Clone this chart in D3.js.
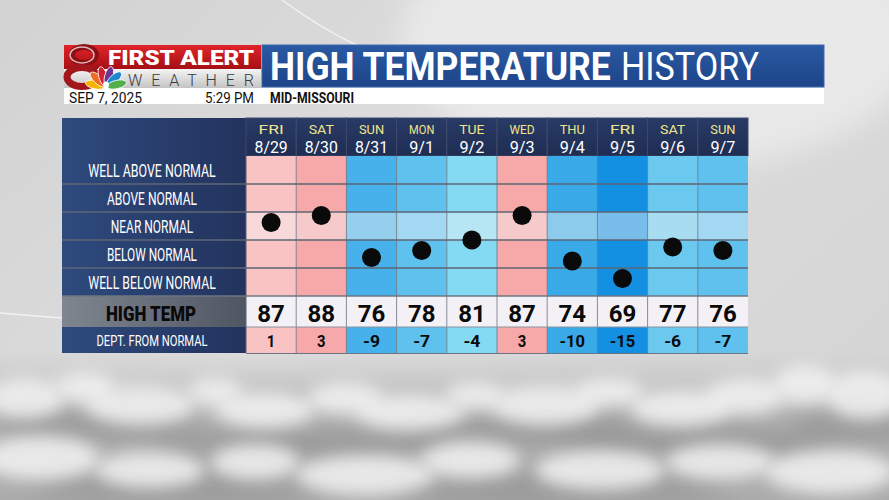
<!DOCTYPE html>
<html><head><meta charset="utf-8">
<script src="https://cdn.jsdelivr.net/npm/d3@7"></script>
<style>
html,body{margin:0;padding:0;overflow:hidden;background:#d9d9d9;}
svg{display:block;}
</style></head>
<body>
<svg id="c" width="889" height="500"></svg>
<script>
// ---------- data ----------
const dayNames = ["FRI","SAT","SUN","MON","TUE","WED","THU","FRI","SAT","SUN"];
const dates = ["8/29","8/30","8/31","9/1","9/2","9/3","9/4","9/5","9/6","9/7"];
const highTemps = [87,88,76,78,81,87,74,69,77,76];
const departures = [1,3,-9,-7,-4,3,-10,-15,-6,-7];
const categories = ["WELL ABOVE NORMAL","ABOVE NORMAL","NEAR NORMAL","BELOW NORMAL","WELL BELOW NORMAL"];
const deptDomain = [20,-20];
const titleBold = "HIGH TEMPERATURE";
const titleLight = "HISTORY";
const dateText = "SEP 7, 2025";
const timeText = "5:29 PM";
const regionText = "MID-MISSOURI";

// ---------- setup ----------
const svg = d3.select("#c");
const defs = svg.append("defs");
const F = "Roboto, 'Liberation Sans', sans-serif";

function lg(id, stops, x2=0, y2=1){
  const g = defs.append("linearGradient").attr("id",id)
    .attr("x1",0).attr("y1",0).attr("x2",x2).attr("y2",y2);
  stops.forEach(s=>g.append("stop").attr("offset",s[0]).attr("stop-color",s[1]).attr("stop-opacity", s[2]===undefined?1:s[2]));
}
lg("bgG",[[0,"#d2d2d2"],[0.5,"#dddddd"],[1,"#d6d6d6"]],1,0.6);
lg("redG",[[0,"#e0242a"],[1,"#a50f14"]]);
lg("grayG",[[0,"#f4f4f4"],[1,"#c4c4c4"]]);
lg("blueG",[[0,"#2a59a3"],[1,"#1d4488"]]);
lg("navyG",[[0,"#2e4a7e"],[1,"#23335d"]],1,0);
lg("hdrG",[[0,"#283a66"],[1,"#1f2d52"]]);
lg("htG",[[0,"#80868f"],[1,"#4f5663"]],1,0);
lg("cloudBase",[[0,"#c8c8c8",0],[0.3,"#bdbdbd",1],[1,"#ababab",1]]);
function blurF(id,sd){
  const f = defs.append("filter").attr("id",id).attr("x","-50%").attr("y","-50%").attr("width","200%").attr("height","200%");
  f.append("feGaussianBlur").attr("stdDeviation",sd);
}
blurF("blur",8); blurF("blurL",14); blurF("blurS",5);

// background
svg.append("rect").attr("width",889).attr("height",500).attr("fill","url(#bgG)");
svg.append("ellipse").attr("cx",660).attr("cy",40).attr("rx",260).attr("ry",130)
  .attr("fill","#ececec").attr("filter","url(#blurL)").attr("opacity",0.8);
svg.append("path").attr("d","M282,0 Q320,28 358,46").attr("stroke","#f6f6f6").attr("stroke-width",1.5).attr("fill","none").attr("opacity",0.85);
svg.append("path").attr("d","M0,313 L62,318").attr("stroke","#f6f6f6").attr("stroke-width",1.5).attr("fill","none").attr("opacity",0.85);

// clouds (decorative)
const cloudG = svg.append("g");
cloudG.append("rect").attr("x",0).attr("y",350).attr("width",889).attr("height",150).attr("fill","url(#cloudBase)");
const darkBlobs = [[90,425,110,18],[300,445,150,20],[520,430,120,18],[700,445,140,22],[860,425,70,20],[180,485,150,16],[560,488,170,16]];
darkBlobs.forEach(b=>cloudG.append("ellipse").attr("cx",b[0]).attr("cy",b[1]).attr("rx",b[2]).attr("ry",b[3]).attr("fill","#8e8e8e").attr("filter","url(#blurL)").attr("opacity",0.7));
const lightBlobs = [[25,398,40,20],[85,388,30,16],[140,405,55,20],[215,392,28,14],[265,410,50,18],[345,398,38,16],[410,412,55,18],[475,396,30,14],[545,405,55,20],[610,392,35,14],[680,408,50,18],[745,396,40,18],[805,385,32,20],[865,395,40,24],
  [40,458,60,22],[150,470,55,18],[255,462,45,18],[365,475,70,20],[470,460,50,18],[600,470,65,20],[720,462,55,18],[830,472,65,22]];
lightBlobs.forEach(b=>cloudG.append("ellipse").attr("cx",b[0]).attr("cy",b[1]).attr("rx",b[2]).attr("ry",b[3]).attr("fill","#f3f3f3").attr("filter","url(#blur)").attr("opacity",0.85));

// ---------- header / title ----------
const hdr = svg.append("g");
hdr.append("rect").attr("x",64).attr("y",88).attr("width",760).attr("height",16).attr("fill","#ffffff");
hdr.append("rect").attr("x",64).attr("y",45).attr("width",197).attr("height",24).attr("fill","url(#redG)");
hdr.append("rect").attr("x",64).attr("y",69).attr("width",197).attr("height",19).attr("fill","url(#grayG)");
hdr.append("rect").attr("x",262).attr("y",45).attr("width",562).attr("height",42).attr("fill","url(#blueG)")
  .attr("stroke","#3c69b0").attr("stroke-width",1);
// logo "8" drawn as two rings
hdr.append("ellipse").attr("cx",84).attr("cy",55).attr("rx",12).attr("ry",8)
  .attr("fill","none").attr("stroke","#8e0f13").attr("stroke-width",6);
hdr.append("ellipse").attr("cx",82).attr("cy",55).attr("rx",12).attr("ry",8)
  .attr("fill","none").attr("stroke","#f2dede").attr("stroke-width",1.5).attr("opacity",0.8);
hdr.append("ellipse").attr("cx",82).attr("cy",77).attr("rx",15).attr("ry",9.5)
  .attr("fill","none").attr("stroke","#a3161b").attr("stroke-width",7);
// peacock
const pc = hdr.append("g").attr("transform","translate(106,87)");
const feathers = ["#f4b400","#ef6b22","#d3202f","#6f3290","#1f88cf","#52b04a"];
feathers.forEach((c,i)=>{
  const a = -78 + i*31;
  pc.append("ellipse").attr("cx",0).attr("cy",-11).attr("rx",4.2).attr("ry",10)
    .attr("fill",c).attr("stroke","#fff").attr("stroke-width",0.8).attr("transform",`rotate(${a})`);
});
pc.append("ellipse").attr("cx",0).attr("cy",-2).attr("rx",3).attr("ry",3.5).attr("fill","#fff");
hdr.append("text").attr("x",254).attr("y",65).attr("text-anchor","end")
  .attr("font-family",F).attr("font-weight",900).attr("font-size",21).attr("fill","#fff")
  .attr("textLength",146).attr("lengthAdjust","spacingAndGlyphs").text("FIRST ALERT");
hdr.append("text").attr("x",254).attr("y",86).attr("text-anchor","end")
  .attr("font-family",F).attr("font-weight",300).attr("font-size",16).attr("fill","#3a3a3a")
  .attr("textLength",126).attr("lengthAdjust","spacing").text("WEATHER");
hdr.append("text").attr("x",69).attr("y",103).attr("font-family",F).attr("font-size",14).attr("fill","#111")
  .attr("textLength",73).attr("lengthAdjust","spacingAndGlyphs").text(dateText);
hdr.append("text").attr("x",254).attr("y",103).attr("text-anchor","end").attr("font-family",F).attr("font-size",14).attr("fill","#111")
  .attr("textLength",49).attr("lengthAdjust","spacingAndGlyphs").text(timeText);
hdr.append("text").attr("x",270).attr("y",103).attr("font-family",F).attr("font-weight",700).attr("font-size",14).attr("fill","#111")
  .attr("textLength",84).attr("lengthAdjust","spacingAndGlyphs").text(regionText);

// title: scale horizontally to the target widths
function fitText(str, x0, w, weight){
  const g = hdr.append("g");
  const tx = g.append("text").attr("x",0).attr("y",0).attr("font-family",F).attr("font-weight",weight)
    .attr("font-size",39).attr("fill","#fff").text(str);
  const nat = tx.node().getComputedTextLength() || w;
  g.attr("transform",`translate(${x0},80) scale(${w/nat},1)`);
}
fitText(titleBold, 270, 341, 700);
fitText(titleLight, 621, 138, 400);

// ---------- table ----------
const left = 62, colStart = 246, colEnd = 748;
const headTop = 118, catTop = 156, catBottom = 296, htBottom = 327, deptBottom = 353;

const x = d3.scaleBand().domain(d3.range(dayNames.length)).range([colStart,colEnd]);
const yCat = d3.scaleBand().domain(categories).range([catTop,catBottom]);
const yDept = d3.scaleLinear().domain(deptDomain).range([catTop,catBottom]);
const color = d3.scaleLinear()
  .domain([-15,-10,-4,1,3])
  .range(["#1490e2","#3aa9e8","#84d9f3","#f9c3c3","#f7a8a8"])
  .clamp(true);

const t = svg.append("g");
t.append("rect").attr("x",left).attr("y",headTop).attr("width",colStart-left).attr("height",deptBottom-headTop).attr("fill","url(#navyG)");
t.append("rect").attr("x",left).attr("y",catBottom).attr("width",colStart-left).attr("height",htBottom-catBottom).attr("fill","url(#htG)");
t.selectAll(".hc").data(d3.range(dayNames.length)).join("rect")
  .attr("x",i=>x(i)).attr("y",headTop).attr("width",x.bandwidth()).attr("height",catTop-headTop)
  .attr("fill","url(#hdrG)").attr("stroke","#3d4a6a").attr("stroke-width",1);
t.selectAll(".dn").data(dayNames).join("text")
  .attr("x",(d,i)=>x(i)+x.bandwidth()/2).attr("y",134).attr("text-anchor","middle")
  .attr("font-family",F).attr("font-size",13.5).attr("fill","#efe58c")
  .attr("textLength",d=>d.length*8.4).attr("lengthAdjust","spacingAndGlyphs").text(d=>d);
t.selectAll(".dt").data(dates).join("text")
  .attr("x",(d,i)=>x(i)+x.bandwidth()/2).attr("y",153).attr("text-anchor","middle")
  .attr("font-family",F).attr("font-size",16.5).attr("fill","#fff")
  .attr("textLength",d=>d.length*8.3).attr("lengthAdjust","spacingAndGlyphs").text(d=>d);

const cells = [];
departures.forEach((d,i)=>categories.forEach(c=>cells.push({i,c,d})));
t.selectAll(".cell").data(cells).join("rect")
  .attr("x",d=>x(d.i)).attr("y",d=>yCat(d.c)).attr("width",x.bandwidth()).attr("height",yCat.bandwidth())
  .attr("fill",d=>color(d.d));
t.append("rect").attr("x",colStart).attr("y",yCat("NEAR NORMAL")).attr("width",colEnd-colStart).attr("height",yCat.bandwidth())
  .attr("fill","#f4f4f4").attr("opacity",0.45);
t.selectAll(".ht").data(highTemps).join("rect")
  .attr("x",(d,i)=>x(i)).attr("y",catBottom).attr("width",x.bandwidth()).attr("height",htBottom-catBottom)
  .attr("fill","#f3f1f6");
t.selectAll(".dc").data(departures).join("rect")
  .attr("x",(d,i)=>x(i)).attr("y",htBottom).attr("width",x.bandwidth()).attr("height",deptBottom-htBottom)
  .attr("fill",d=>color(d));

d3.range(1,dayNames.length).forEach(i=>{
  t.append("line").attr("x1",x(i)).attr("x2",x(i)).attr("y1",catTop).attr("y2",deptBottom)
    .attr("stroke","#6a7482").attr("stroke-width",1).attr("opacity",0.8);
});
categories.slice(1).forEach(c=>{
  t.append("line").attr("x1",left).attr("x2",colEnd).attr("y1",yCat(c)).attr("y2",yCat(c))
    .attr("stroke","#5d6675").attr("stroke-width",2).attr("opacity",0.75);
});
t.append("line").attr("x1",left).attr("x2",colEnd).attr("y1",catBottom).attr("y2",catBottom)
  .attr("stroke","#6d7683").attr("stroke-width",1.5);
t.append("line").attr("x1",colStart).attr("x2",colEnd).attr("y1",htBottom).attr("y2",htBottom)
  .attr("stroke","#8a93a0").attr("stroke-width",1);
t.append("line").attr("x1",colStart).attr("x2",colStart).attr("y1",catTop).attr("y2",deptBottom)
  .attr("stroke","#5d6675").attr("stroke-width",1);
t.append("line").attr("x1",colStart).attr("x2",colEnd).attr("y1",deptBottom+0.5).attr("y2",deptBottom+0.5)
  .attr("stroke","#6a7482").attr("stroke-width",1);

t.selectAll(".rl").data(categories).join("text")
  .attr("x",152).attr("y",c=>yCat(c)+yCat.bandwidth()/2+6.5).attr("text-anchor","middle")
  .attr("font-family",F).attr("font-size",17.5).attr("fill","#fff")
  .attr("textLength",c=>c.length*7.5).attr("lengthAdjust","spacingAndGlyphs")
  .text(c=>c);
t.append("text").attr("x",151).attr("y",321).attr("text-anchor","middle")
  .attr("font-family",F).attr("font-weight",900).attr("font-size",20.5).attr("fill","#0a0a0a")
  .attr("textLength",90).attr("lengthAdjust","spacingAndGlyphs").text("HIGH TEMP");
t.append("text").attr("x",152).attr("y",346).attr("text-anchor","middle")
  .attr("font-family",F).attr("font-size",14).attr("fill","#fff")
  .attr("textLength",111).attr("lengthAdjust","spacingAndGlyphs").text("DEPT. FROM NORMAL");

t.selectAll(".htv").data(highTemps).join("text")
  .attr("x",(d,i)=>x(i)+x.bandwidth()/2).attr("y",322).attr("text-anchor","middle")
  .attr("font-family",F).attr("font-weight",700).attr("font-size",24).attr("fill","#0a0a0a").text(d=>d);
t.selectAll(".dv").data(departures).join("text")
  .attr("x",(d,i)=>x(i)+x.bandwidth()/2).attr("y",347).attr("text-anchor","middle")
  .attr("font-family",F).attr("font-weight",700).attr("font-size",17).attr("fill","#0a0a0a")
  .attr("textLength",d=>String(d).length*8.5).attr("lengthAdjust","spacingAndGlyphs").text(d=>d);

t.selectAll(".dot").data(departures).join("circle")
  .attr("cx",(d,i)=>x(i)+x.bandwidth()/2).attr("cy",d=>yDept(d)).attr("r",9.5)
  .attr("fill","#0a0a0a");
</script>
</body></html>
